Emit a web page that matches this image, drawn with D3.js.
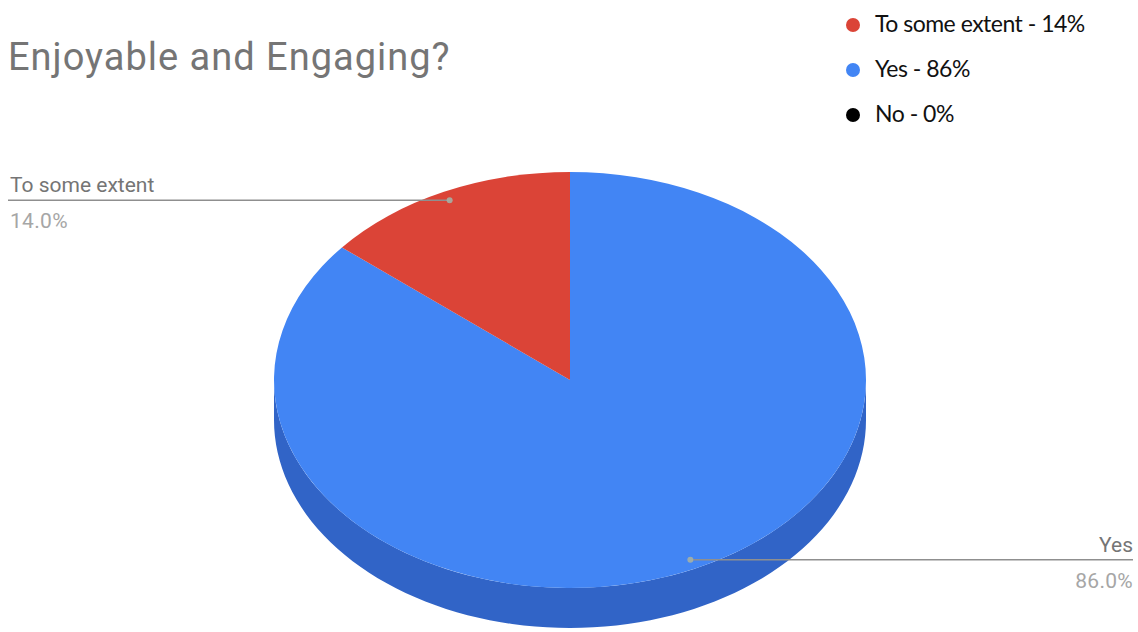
<!DOCTYPE html>
<html>
<head>
<meta charset="utf-8">
<script src="https://cdn.jsdelivr.net/npm/d3@7"></script>
<style>
  body { margin: 0; background: #fff; }
  svg { display: block; }
</style>
</head>
<body>
<svg width="1138" height="632"></svg>
<script>
// slice data, in drawing order (clockwise from 12 o'clock)
var labels = ["Yes", "To some extent", "No"];
var values = [86, 14, 0];
var colors = ["#4285f4", "#db4437", "#000000"];
var sideColors = ["#3164c7", "#a8352b", "#000000"];

// legend as shown at top right
var legendLabels = ["To some extent - 14%", "Yes - 86%", "No - 0%"];
var legendColors = ["#db4437", "#4285f4", "#000000"];

var title = "Enjoyable and Engaging?";

var svg = d3.select("svg");

var cx = 570, cy = 380, rx = 296, ry = 208, depth = 40;

var pie = d3.pie().sort(null).value(function(d){ return d; });
var slices = pie(values);

// point on top ellipse for a d3 pie angle (0 = top, clockwise)
function pt(a, dy){
    return [cx + rx * Math.sin(a), cy - ry * Math.cos(a) + (dy || 0)];
}

// side walls (only front half, PI/2 .. 3PI/2 is visible)
var sideG = svg.append("g");
slices.forEach(function(s, i){
    if (s.endAngle - s.startAngle <= 0) return;
    var a0 = Math.max(s.startAngle, Math.PI / 2);
    var a1 = Math.min(s.endAngle, Math.PI * 1.5);
    if (a1 <= a0) return;
    var n = 80;
    var top = d3.range(n + 1).map(function(k){ return pt(a0 + (a1 - a0) * k / n); });
    var bot = d3.range(n + 1).map(function(k){ return pt(a1 - (a1 - a0) * k / n, depth); });
    sideG.append("path")
        .attr("d", d3.line()(top.concat(bot)) + "Z")
        .style("fill", sideColors[i]);
});

// top face: circular arcs squashed into an ellipse
var arc = d3.arc().innerRadius(0).outerRadius(rx);
svg.append("g")
    .attr("transform", "translate(" + [cx, cy] + ") scale(1," + (ry / rx) + ")")
    .selectAll("path")
    .data(slices.filter(function(s){ return s.endAngle > s.startAngle; }))
    .enter()
    .append("path")
    .attr("d", arc)
    .style("fill", function(d){ return colors[d.index]; });

// slice labels with leader lines
var labelSide = { "Yes": "right", "To some extent": "left" };
slices.forEach(function(s, i){
    if (values[i] <= 0) return;
    var mid = (s.startAngle + s.endAngle) / 2;
    var p = [cx + 0.955 * rx * Math.sin(mid), cy - 0.955 * ry * Math.cos(mid)];
    var right = labelSide[labels[i]] === "right";
    var xEnd = right ? 1133 : 8;
    var anchor = right ? "end" : "start";
    var tx = right ? 1133 : 10;

    svg.append("line")
        .attr("x1", p[0]).attr("y1", p[1])
        .attr("x2", xEnd).attr("y2", p[1])
        .style("stroke", "#8f8f8f")
        .style("stroke-width", 1.6);
    svg.append("circle")
        .attr("cx", p[0]).attr("cy", p[1]).attr("r", 3)
        .style("fill", "#a5b0a5")
        .style("opacity", 0.9);
    svg.append("text")
        .attr("x", tx).attr("y", p[1] - 8)
        .attr("text-anchor", anchor)
        .style("font-family", "Roboto, sans-serif")
        .style("font-size", "21px")
        .style("fill", "#757575")
        .text(labels[i]);
    svg.append("text")
        .attr("x", tx).attr("y", p[1] + 28)
        .attr("text-anchor", anchor)
        .style("font-family", "Roboto, sans-serif")
        .style("font-size", "21px")
        .style("letter-spacing", "0.3px")
        .style("fill", "#a6a6a6")
        .text(d3.format(".1f")(values[i]) + "%");
});

// title
svg.append("text")
    .attr("x", 8).attr("y", 70)
    .style("font-family", "Roboto, sans-serif")
    .style("font-size", "38px")
    .style("letter-spacing", "1px")
    .style("fill", "#757575")
    .text(title);

// legend
var legY = d3.scalePoint().domain(legendLabels).range([25, 115]);
var leg = svg.append("g").selectAll("g").data(legendLabels)
    .enter().append("g")
    .attr("transform", function(d){ return "translate(" + [853, legY(d)] + ")"; });
leg.append("circle")
    .attr("r", 7)
    .style("fill", function(d, i){ return legendColors[i]; });
leg.append("text")
    .attr("x", 22).attr("y", 7)
    .style("font-family", "Lato, sans-serif")
    .style("font-size", "23px")
    .style("letter-spacing", "-0.5px")
    .style("fill", "#111")
    .text(function(d){ return d; });
</script>
</body>
</html>
